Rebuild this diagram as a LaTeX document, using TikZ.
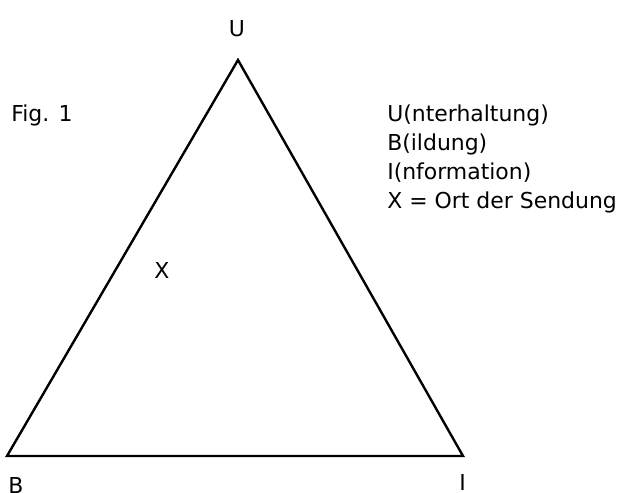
\documentclass[tikz,border=0pt]{standalone}
\usepackage{fontspec}
\setmainfont{DejaVu Sans}
\begin{document}
\begin{tikzpicture}[
        seite/.style={line width=1.7pt, black, line join=miter},
        lab/.style={inner sep=0pt, font=\fontsize{15.6}{18}\selectfont},
    ]
        \useasboundingbox (0,0) rectangle (15.55,12.325);
        % Ecken
        \coordinate (U) at (5.95,10.825);
        \coordinate (B) at (0.175,0.925);
        \coordinate (I) at (11.575,0.925);
        % Dreieck
        \draw[seite] (U) -- (B) -- (I) -- cycle;
        % Ecken beschriften
        \node[lab, anchor=base]      (labU) at (5.925,11.4)  {U};
        \node[lab, anchor=base west] (labB) at (0.2,-0.025)  {B};
        \node[lab, anchor=base west] (labI) at (11.475,0.05) {I};
        % Ort der Sendung
        \node[lab, anchor=base]      (ort)  at (4.05,5.35)   {X};
        % Titel
        \node[lab, anchor=base west] (fig)  at (0.275,9.275) {Fig. 1};
        % Legende
        \node[lab, anchor=base west] (leg1) at (9.675,9.275) {U(nterhaltung)};
        \node[lab, anchor=base west] (leg2) at (9.675,8.55)  {B(ildung)};
        \node[lab, anchor=base west] (leg3) at (9.675,7.825) {I(nformation)};
        \node[lab, anchor=base west] (leg4) at (9.675,7.1)   {X = Ort der Sendung};
    \end{tikzpicture}
\end{document}
